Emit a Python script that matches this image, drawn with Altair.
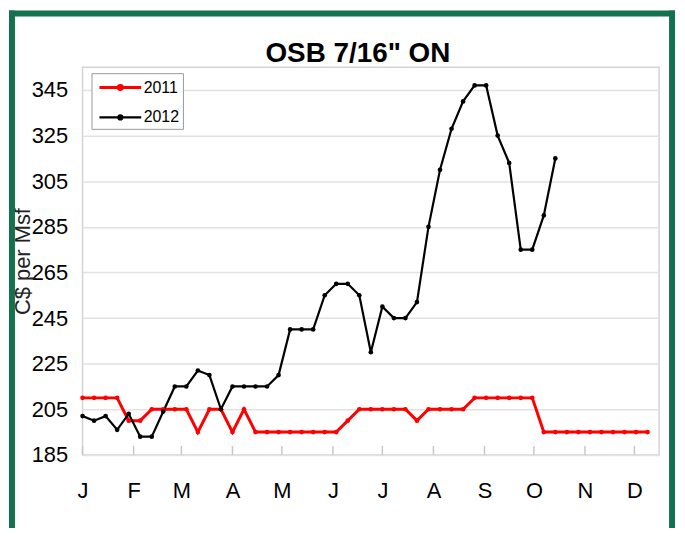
import altair as alt
import pandas as pd

# ---- data ----
months = ["J", "F", "M", "A", "M", "J", "J", "A", "S", "O", "N", "D"]
month_start_day = [0, 31, 60, 91, 121, 152, 182, 213, 244, 274, 305, 335]
years = ["2011", "2012"]
colors = ["#ff0000", "#000000"]

prices_2011 = [210, 210, 210, 210, 200, 200, 205, 205, 205, 205,
               195, 205, 205, 195, 205, 195, 195, 195, 195, 195,
               195, 195, 195, 200, 205, 205, 205, 205, 205, 200,
               205, 205, 205, 205, 210, 210, 210, 210, 210, 210,
               195, 195, 195, 195, 195, 195, 195, 195, 195, 195]
prices_2012 = [202, 200, 202, 196, 203, 193, 193, 204, 215, 215,
               222, 220, 205, 215, 215, 215, 215, 220, 240, 240,
               240, 255, 260, 260, 255, 230, 250, 245, 245, 252,
               285, 310, 328, 340, 347, 347, 325, 313, 275, 275,
               290, 315]
y_ticks = [185, 205, 225, 245, 265, 285, 305, 325, 345]

rows = []
for yr, series in zip(years, [prices_2011, prices_2012]):
    for wk, v in enumerate(series):
        rows.append({"day": wk * 7, "price": v, "year": yr})
df = pd.DataFrame(rows)
ticks_df = pd.DataFrame({"day": month_start_day})
one = pd.DataFrame({"k": [0]})

FONT = "Liberation Sans"
GREEN = "#13714f"
W, H = 580, 390

label_expr = ("[" + ",".join("'%s'" % m for m in months) + "][indexof(["
              + ",".join(str(d) for d in month_start_day) + "], datum.value)]")

x_enc = alt.X("day:Q",
              scale=alt.Scale(domain=[0, 350], nice=False, zero=False),
              axis=alt.Axis(values=month_start_day, labelExpr=label_expr,
                            ticks=False, tickSize=0, domain=False, grid=False,
                            labelFontSize=22, labelFont=FONT, labelColor="black",
                            labelPadding=26, labelFlush=False, labelOverlap=False,
                            title=None))
y_enc = alt.Y("price:Q",
              scale=alt.Scale(domain=[185, 355], nice=False, zero=False),
              axis=alt.Axis(values=y_ticks, ticks=False, tickSize=0, domain=False,
                            gridColor="#e2e2e2", gridWidth=1.5,
                            labelFontSize=22, labelFont=FONT, labelColor="black",
                            labelPadding=15, labelOverlap=False,
                            title="C$ per Msf", titleFontSize=22, titleFont=FONT,
                            titleFontWeight="normal", titleColor="#222222",
                            titleX=-60, titleY=195, titleAlign="center",
                            titleBaseline="middle"))

color_scale = alt.Scale(domain=years, range=colors)

legend = alt.Legend(
    title=None, orient="none", legendX=9, legendY=6, direction="vertical",
    symbolType="M-2.1,0L2.1,0M-0.2,0A0.2,0.2,0,1,1,0.2,0A0.2,0.2,0,1,1,-0.2,0",
    symbolSize=400, symbolStrokeWidth=3, symbolOffset=14.5, labelOffset=12,
    labelFontSize=16, labelFont=FONT, labelColor="black",
    padding=3, rowPadding=10, strokeColor="#999999", fillColor="white")

lines = alt.Chart(df).mark_line().encode(
    x=x_enc, y=y_enc,
    color=alt.Color("year:N", scale=color_scale, legend=legend),
    strokeWidth=alt.StrokeWidth("year:N", scale=alt.Scale(domain=years, range=[3, 2.2]),
                                legend=None),
)
points = alt.Chart(df).mark_circle(size=22, opacity=1).encode(
    x="day:Q", y="price:Q",
    fill=alt.Fill("year:N", scale=color_scale, legend=None),
)
inner_ticks = alt.Chart(ticks_df).mark_rule(color="#c8c8c8", strokeWidth=1.5).encode(
    x="day:Q", y=alt.value(H), y2=alt.value(H - 9))

frame_left = alt.Chart(one).mark_rule(color=GREEN, strokeWidth=6).encode(
    x=alt.value(-71), y=alt.value(-57), y2=alt.value(475))
frame_top = alt.Chart(one).mark_rule(color=GREEN, strokeWidth=6).encode(
    x=alt.value(-74), x2=alt.value(596), y=alt.value(-54))
frame_right = alt.Chart(one).mark_rule(color=GREEN, strokeWidth=6).encode(
    x=alt.value(593), y=alt.value(-57), y2=alt.value(475))

chart = alt.layer(inner_ticks, lines, points, frame_left, frame_top, frame_right).properties(
    width=W, height=H,
    autosize=alt.AutoSizeParams(type="none"),
    padding={"left": 75, "top": 58, "right": 18, "bottom": 72},
    title=alt.TitleParams('OSB 7/16" ON', fontSize=28, fontWeight="bold", font=FONT,
                          color="black", anchor="middle", dx=-13, dy=87, offset=4,
                          frame="group", baseline="alphabetic"),
    background="white",
).configure_view(stroke="#d4d4d4", strokeWidth=1.5)

chart.save("out.html", embed_options={"renderer": "svg", "actions": False})
